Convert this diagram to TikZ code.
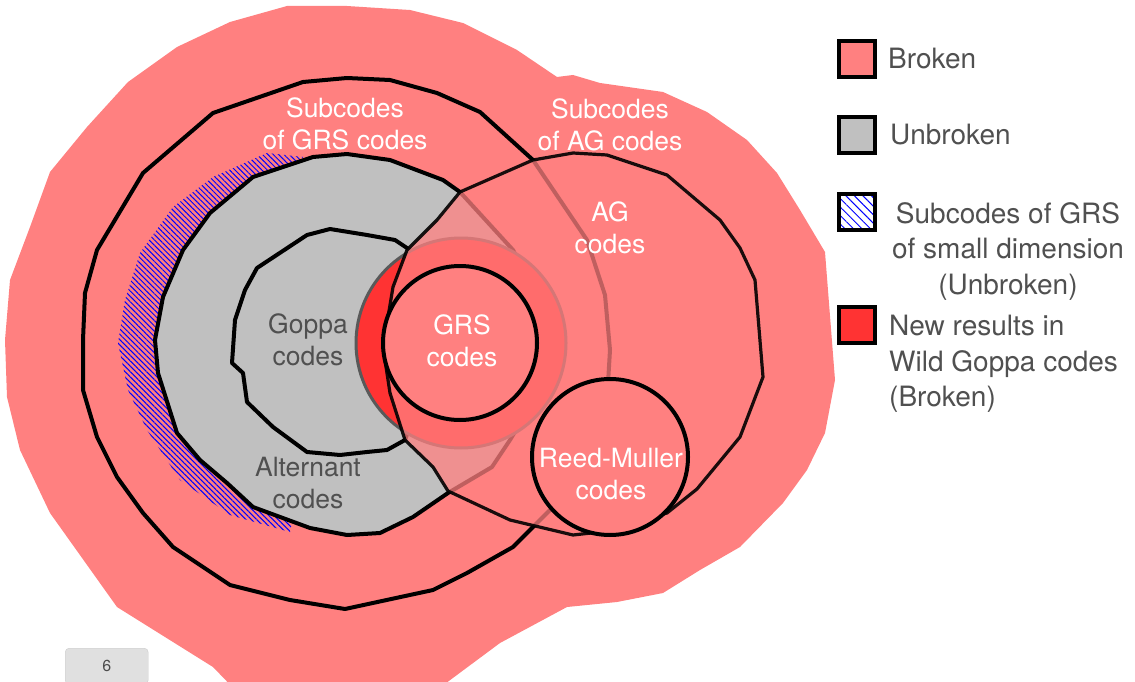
\documentclass[tikz,border=0pt]{standalone}
\usepackage{fontspec}
\setmainfont{TeX Gyre Heros}
\usetikzlibrary{patterns.meta}
\definecolor{broken}{HTML}{FF8080}
\definecolor{unbroken}{HTML}{C0C0C0}
\definecolor{wild}{HTML}{FF3333}
\definecolor{greytext}{HTML}{505050}
\tikzstyle{region}=[draw=black,line width=4pt,line join=round]
\tikzstyle{hatch}=[pattern={Lines[angle=-45,distance=3.8pt,line width=1pt]},pattern color=blue]
\tikzstyle{codelabel}=[align=center,inner sep=0pt,font=\fontsize{26.5}{32}\selectfont,text=white]
\tikzstyle{darklabel}=[codelabel,text=greytext]
\tikzstyle{legendbox}=[draw=black,line width=4pt,minimum size=36pt,inner sep=0pt]
\tikzstyle{legendentry}=[inner sep=0pt,font=\fontsize{28}{35.5}\selectfont,text=greytext]

\begin{document}
\begin{tikzpicture}[x=1pt,y=-1pt]

    \useasboundingbox (0,0) rectangle (1135,682);
    \clip (0,0) rectangle (1135,682);

    % subcodes of AG codes (everything)
    \fill[broken] (5,340) -- (10,280) -- (30,227) -- (50,172) -- (87,127) -- (128,82) -- (177,47)
        -- (230,22) -- (287,6) -- (347,6) -- (410,10) -- (463,23) -- (497,40) -- (517,50) -- (557,77)
        -- (573,75) -- (600,83) -- (663,92) -- (707,112) -- (747,140) -- (777,173) -- (800,210)
        -- (825,252) -- (835,380) -- (825,433) -- (807,470) -- (783,503) -- (740,547) -- (700,570)
        -- (663,593) -- (617,602) -- (567,607) -- (500,643) -- (430,695) -- (240,695) -- (213,667)
        -- (117,607) -- (50,513) -- (20,450) -- (7,397) -- cycle;

    % subcodes of GRS codes
    \draw[region] (83,340) -- (85,293) -- (97,250) -- (143,173) -- (213,113) -- (303,82) -- (347,78)
        -- (390,80) -- (437,93) -- (480,112) -- (533,160) -- (587,240) -- (605,295) -- (610,350)
        -- (607,400) -- (590,460) -- (550,510) -- (513,547) -- (467,573) -- (433,590) -- (345,609)
        -- (290,600) -- (230,585) -- (173,547) -- (143,513) -- (117,477) -- (97,437) -- (83,390) -- cycle;

    % small dimension band
    \fill[hatch] (303,157) -- (267,153) -- (213,177) -- (173,207) -- (140,253) -- (125,300) -- (118,343)
        -- (128,390) -- (147,430) -- (180,480) -- (230,515) -- (290,532) -- (300,480) -- (200,400)
        -- (200,250) -- (300,200) -- cycle;

    % alternant
    \filldraw[region,fill=unbroken] (155,340) -- (163,297) -- (183,250) -- (210,213) -- (253,177)
        -- (313,157) -- (347,154) -- (390,160) -- (443,180) -- (460,192) -- (513,250) -- (540,300)
        -- (548,343) -- (540,390) -- (510,440) -- (492,467) -- (448,493) -- (413,517) -- (380,533)
        -- (347,535) -- (310,528) -- (253,507) -- (227,483) -- (200,460) -- (177,433) -- (158,373) -- cycle;

    % goppa
    \filldraw[region,fill=unbroken] (257,268) -- (307,235) -- (330,229) -- (367,235) -- (395,240)
        -- (410,250) -- (420,300) -- (425,345) -- (420,400) -- (405,440) -- (387,450) -- (367,452)
        -- (340,455) -- (307,452) -- (273,427) -- (247,402) -- (243,373) -- (232,363) -- (235,320)
        -- (245,290) -- cycle;

    % wild goppa
    \filldraw[fill=wild,draw=black!65,line width=3pt] (461,343) circle[radius=105];

    % AG codes
    \filldraw[region,line width=3.2pt,fill=broken,fill opacity=0.75,draw opacity=0.9] (407,250) -- (437,220)
        -- (460,192) -- (533,160) -- (573,153) -- (607,155) -- (667,175) -- (720,220) -- (740,248)
        -- (755,280) -- (763,377) -- (740,437) -- (697,489) -- (667,513) -- (600,532) -- (573,535)
        -- (510,520) -- (448,491) -- (433,467) -- (405,440) -- (390,393) -- (383,347) -- (393,287) -- cycle;

    % GRS and Reed-Muller
    \filldraw[region,fill=broken] (460,343) circle[radius=77];
    \filldraw[region,fill=broken] (610,457) circle[radius=78];

    \foreach \x/\y/\name/\txt in {345/124/grssub/{Subcodes\\of GRS codes}, 610/125/agsub/{Subcodes\\of AG codes},
        610/228/ag/{AG\\codes}, 462/341/grs/{GRS\\codes}, 611/474/rm/{Reed-Muller\\codes}}
        \node[codelabel] (\name) at (\x,\y) {\txt};

    \foreach \x/\y/\name/\txt in {308/340/goppa/{Goppa\\codes}, 308/483/alt/{Alternant\\codes}}
        \node[darklabel] (\name) at (\x,\y) {\txt};

    % legend
    \foreach \y/\col/\name in {59/broken/lbroken, 135/unbroken/lunbroken, 325/wild/lwild}
        \node[legendbox,fill=\col] (\name) at (857,\y) {};
    \node[legendbox,preaction={fill=white},pattern={Lines[angle=-45,distance=6pt,line width=1pt]},
        pattern color=blue] (lsmall) at (857,212) {};

    \node[legendentry,anchor=west] (tbroken) at (888,59) {Broken};
    \node[legendentry,anchor=west] (tunbroken) at (890,135) {Unbroken};
    \node[legendentry,align=center,anchor=north] (tsmall) at (1008,202) {Subcodes of GRS\\of small dimension\\(Unbroken)};
    \node[legendentry,align=left,anchor=north west] (twild) at (889,315) {New results in\\Wild Goppa codes\\(Broken)};

    % page number
    \node[draw=black!20,fill=black!12,rounded corners=4pt,minimum width=83pt,minimum height=36pt,
        anchor=north west,font=\fontsize{16}{18}\selectfont,text=black!70] (page) at (65,648) {6};

\end{tikzpicture}
\end{document}
